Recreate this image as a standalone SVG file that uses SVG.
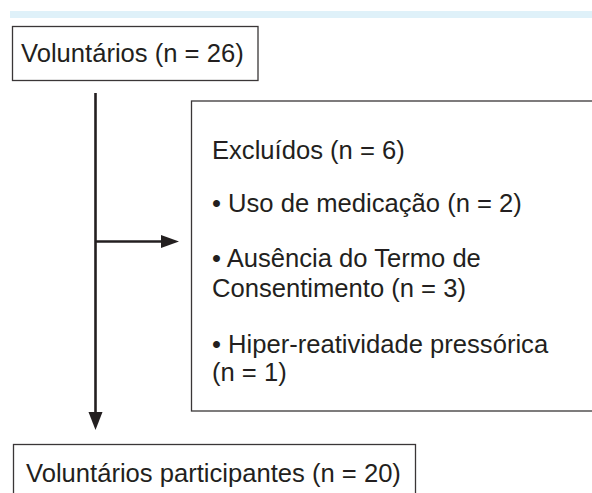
<svg xmlns="http://www.w3.org/2000/svg" width="592" height="493" viewBox="0 0 592 493">
<style>
.box{fill:#fff;stroke:#3a3637;stroke-width:1.3}
.t{font-family:"Liberation Sans",Arial,sans-serif;font-size:25.6px;fill:#231f20}
.ln{stroke:#231f20;stroke-width:2.6;fill:none}
.ah{fill:#231f20}
</style>
<rect x="10" y="11" width="582" height="7" fill="#dff1f9"/>
<g id="node-voluntarios">
<rect class="box" x="12.5" y="26.5" width="245.5" height="54"/>
<text class="t" x="21" y="62">Voluntários (n = 26)</text>
</g>
<g id="node-excluidos">
<rect class="box" x="191.5" y="101" width="420" height="310"/>
<text class="t" x="212" y="159">Excluídos (n = 6)</text>
<text class="t" x="212" y="212">• Uso de medicação (n = 2)</text>
<text class="t" x="212" y="267">• Ausência do Termo de</text>
<text class="t" x="212" y="297">Consentimento (n = 3)</text>
<text class="t" x="212" y="353">• Hiper-reatividade pressórica</text>
<text class="t" x="212" y="381">(n = 1)</text>
</g>
<g id="node-participantes">
<rect class="box" x="13.5" y="444.5" width="402" height="60"/>
<text class="t" x="26" y="482">Voluntários participantes (n = 20)</text>
</g>
<g id="connectors">
<line class="ln" x1="95.5" y1="93" x2="95.5" y2="414"/>
<polygon class="ah" points="88.5,412 102.5,412 95.5,430"/>
<line class="ln" x1="95.5" y1="241.5" x2="163" y2="241.5"/>
<polygon class="ah" points="161,235 161,248 179,241.5"/>
</g>
</svg>
